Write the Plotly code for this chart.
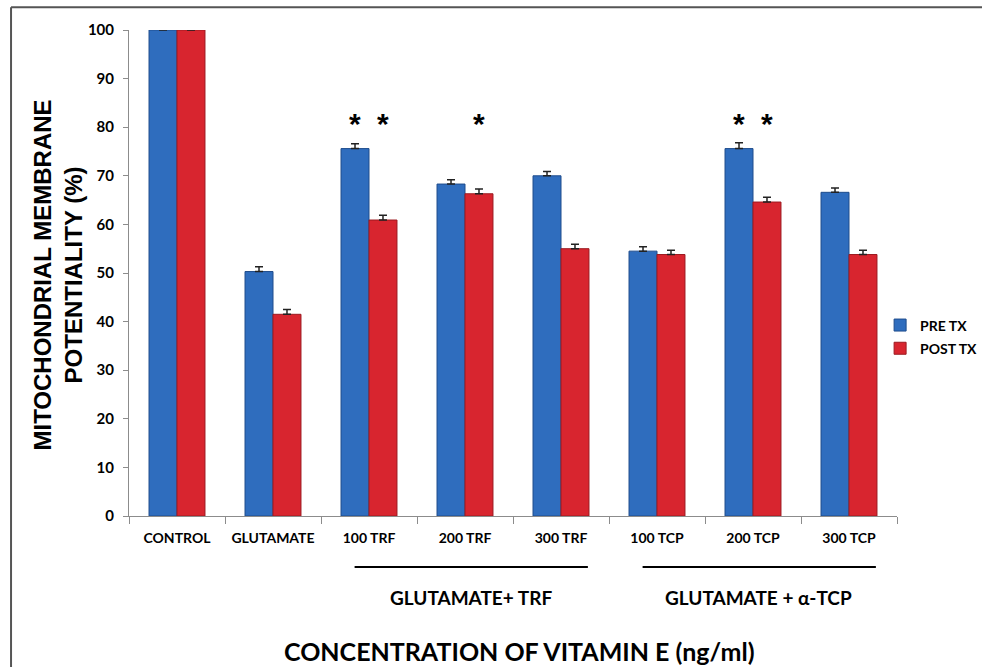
import plotly.graph_objects as go

# Treatment groups along the x axis
categories = ["CONTROL", "GLUTAMATE", "100 TRF", "200 TRF", "300 TRF",
              "100 TCP", "200 TCP", "300 TCP"]

# Mitochondrial membrane potentiality (%) before and after treatment
pre_tx = [100, 50.3, 75.6, 68.3, 70.0, 54.5, 75.6, 66.6]
post_tx = [100, 41.5, 60.9, 66.3, 55.0, 53.8, 64.6, 53.8]

# Upper error bars (SEM)
pre_err = [0.2, 1.0, 1.0, 0.9, 0.9, 0.9, 1.2, 0.9]
post_err = [0.2, 1.0, 1.0, 1.0, 0.9, 0.9, 1.0, 0.9]

# Significance markers: (category, series, height)
stars = [("100 TRF", "pre", 80.7), ("100 TRF", "post", 80.7),
         ("200 TRF", "post", 80.7),
         ("200 TCP", "pre", 80.7), ("200 TCP", "post", 80.7)]

# Grouping brackets below the axis
groups = [("GLUTAMATE+ TRF", "100 TRF", "300 TRF"),
          ("GLUTAMATE + α-TCP", "100 TCP", "300 TCP")]

BLUE = "#2F6DBE"
BLUE_EDGE = "#1E4C8C"
RED = "#D8252F"
RED_EDGE = "#9C1A20"
AXIS = "#8C8C8C"
LABEL_FONT = "Lato"

fig = go.Figure()
fig.add_trace(go.Bar(
    name="PRE TX", x=categories, y=pre_tx, legendgroup="pre",
    marker=dict(color=BLUE, line=dict(color=BLUE_EDGE, width=1)),
    error_y=dict(type="data", array=pre_err, arrayminus=[0] * len(pre_err),
                 symmetric=False, color="#222222", thickness=1.5, width=4),
))
fig.add_trace(go.Bar(
    name="POST TX", x=categories, y=post_tx, legendgroup="post",
    marker=dict(color=RED, line=dict(color=RED_EDGE, width=1)),
    error_y=dict(type="data", array=post_err, arrayminus=[0] * len(post_err),
                 symmetric=False, color="#222222", thickness=1.5, width=4),
))

annotations = []
for cat, series, h in stars:
    annotations.append(dict(
        x=cat, y=h, xref="x", yref="y", text="<b>*</b>", showarrow=False,
        xshift=-14 if series == "pre" else 14, yanchor="middle",
        font=dict(family="Liberation Sans", size=30, color="black"),
    ))

shapes = []
for label, first, last in groups:
    i0 = categories.index(first)
    i1 = categories.index(last)
    shapes.append(dict(type="line", xref="x", yref="paper",
                       x0=i0 - 0.15, x1=i1 + 0.28, y0=-0.105, y1=-0.105,
                       line=dict(color="black", width=2)))
    annotations.append(dict(
        x=(i0 + i1) / 2 + 0.06, y=-0.168, xref="x", yref="paper",
        text=label, showarrow=False, yanchor="middle",
        font=dict(family=LABEL_FONT, size=19, color="black", weight="bold"),
    ))

# Axis titles
annotations.append(dict(
    x=-0.093, y=0.496, xref="paper", yref="paper",
    text="MITOCHONDRIAL MEMBRANE<br>POTENTIALITY (%)", textangle=-90,
    showarrow=False, xanchor="center", yanchor="middle",
    font=dict(family="Liberation Sans", size=24, color="black", weight="bold"),
))
annotations.append(dict(
    x=0.508, y=-0.277, xref="paper", yref="paper",
    text="CONCENTRATION OF VITAMIN E (ng/ml)", showarrow=False,
    xanchor="center", yanchor="middle",
    font=dict(family=LABEL_FONT, size=25, color="black", weight="bold"),
))

# Outer frame (top and left edges)
shapes.append(dict(type="line", xref="paper", yref="paper",
                   x0=-0.1536, x1=1.12, y0=1.047, y1=1.047,
                   line=dict(color="#555555", width=2)))
shapes.append(dict(type="line", xref="paper", yref="paper",
                   x0=-0.1536, x1=-0.1536, y0=1.047, y1=-0.32,
                   line=dict(color="#555555", width=2)))

fig.update_layout(
    width=982, height=667,
    margin=dict(l=129, r=85, t=30, b=151, autoexpand=False),
    paper_bgcolor="white", plot_bgcolor="white",
    barmode="group", bargap=0.417, bargroupgap=0,
    showlegend=True,
    legend=dict(x=0.978, y=0.425, xanchor="left", yanchor="top",
                font=dict(family=LABEL_FONT, size=14, color="black", weight="bold"),
                tracegroupgap=2, itemwidth=30, bgcolor="rgba(0,0,0,0)"),
    xaxis=dict(
        showline=True, linecolor=AXIS, linewidth=1,
        ticks="outside", tickson="boundaries", ticklen=7, tickcolor=AXIS,
        ticklabelstandoff=9,
        tickfont=dict(family=LABEL_FONT, size=14, color="black", weight="bold"),
        showgrid=False,
    ),
    yaxis=dict(
        range=[0, 100], dtick=10, showline=True, linecolor=AXIS, linewidth=1,
        ticks="outside", ticklen=5, tickcolor=AXIS, ticklabelstandoff=6,
        tickfont=dict(family=LABEL_FONT, size=15, color="black", weight="bold"),
        showgrid=False, zeroline=False,
    ),
    shapes=shapes,
    annotations=annotations,
)

fig.write_html("out.html")
